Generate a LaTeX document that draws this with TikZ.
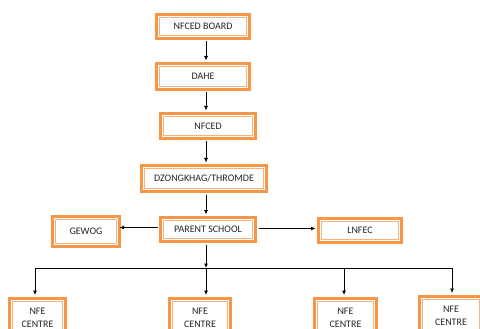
\documentclass[tikz,border=0pt]{standalone}
\usepackage{fontspec}
\setmainfont{Carlito}
\usetikzlibrary{arrows.meta}
\definecolor{orgout}{HTML}{F79646}
\definecolor{orgin}{HTML}{F9B27E}
\definecolor{txt}{HTML}{262626}
\begin{document}
\begin{tikzpicture}[x=1pt,y=-1pt,
  box/.style={draw=orgout, line width=3pt, fill=white, inner sep=0pt,
    font=\fontsize{10}{13}\selectfont, text=txt, align=center,
    path picture={\draw[orgin, line width=0.8pt]
      ([shift={(3.2pt,-3.2pt)}]path picture bounding box.north west) rectangle
      ([shift={(-3.2pt,3.2pt)}]path picture bounding box.south east);}},
  nfebox/.style={box, anchor=north, inner ysep=10.5pt, inner xsep=0pt},
  arr/.style={-{Latex[length=4.5pt,width=4pt]}, line width=0.8pt, black},
  ln/.style={line width=0.8pt, black}]
\useasboundingbox (0,0) rectangle (480,329);
\clip (0,0) rectangle (480,329);

\node[box, minimum width=93pt, minimum height=24pt] (board) at (203,26.5) {NFCED BOARD};
\node[box, minimum width=93pt, minimum height=26pt] (dahe) at (203,76.5) {DAHE};
\node[box, minimum width=95pt, minimum height=25pt] (nfced) at (208,126) {NFCED};
\node[box, minimum width=125pt, minimum height=26pt] (dzong) at (204,178.5) {DZONGKHAG/THROMDE};
\node[box, minimum width=95pt, minimum height=24pt] (parent) at (208,229.5) {PARENT SCHOOL};
\node[box, minimum width=67pt, minimum height=30pt] (gewog) at (86,231.5) {GEWOG};
\node[box, minimum width=83pt, minimum height=24pt] (lnfec) at (360,230.5) {LNFEC};

\node[nfebox, minimum width=56pt] (nfe1) at (37.5,296.5) {NFE\\CENTRE};
\node[nfebox, minimum width=61pt] (nfe2) at (200,296.5) {NFE\\CENTRE};
\node[nfebox, minimum width=62pt] (nfe3) at (345.5,296.5) {NFE\\CENTRE};
\node[nfebox, minimum width=63pt] (nfe4) at (451,294.5) {NFE\\CENTRE};

\coordinate (bus) at (206,268);
\coordinate (b1) at (35,268);
\coordinate (b2) at (206,268);
\coordinate (b3) at (344,268);
\coordinate (b4) at (452,268);

\draw[arr] ([xshift=3pt,yshift=-1.5pt]board.south) -- ([xshift=3pt,yshift=1.5pt]dahe.north);
\draw[arr] ([xshift=3pt,yshift=-1.5pt]dahe.south) -- ([xshift=-2pt,yshift=1.5pt]nfced.north);
\draw[arr] ([xshift=-2pt,yshift=-1.5pt]nfced.south) -- ([xshift=2pt,yshift=1.5pt]dzong.north);
\draw[arr] ([xshift=2pt,yshift=-1.5pt]dzong.south) -- ([xshift=-2pt,yshift=1.5pt]parent.north);
\draw[arr] ([xshift=-2pt,yshift=-1.5pt]parent.south) -- (bus);
\draw[arr] ([xshift=-1.5pt,yshift=2pt]parent.west) -- ([xshift=-1.5pt,yshift=2pt]parent.west -| gewog.east);
\draw[arr] ([xshift=1.5pt,yshift=1pt]parent.east) -- ([xshift=-1.5pt,yshift=1pt]parent.east -| lnfec.west);

\draw[ln] (b1) -- (b4);
\draw[arr] (b1) -- ([yshift=1.5pt]b1 |- nfe1.north);
\draw[arr] (b2) -- ([yshift=1.5pt]b2 |- nfe2.north);
\draw[arr] (b3) -- ([yshift=1.5pt]b3 |- nfe3.north);
\draw[arr] (b4) -- ([yshift=1.5pt]b4 |- nfe4.north);
\end{tikzpicture}
\end{document}
